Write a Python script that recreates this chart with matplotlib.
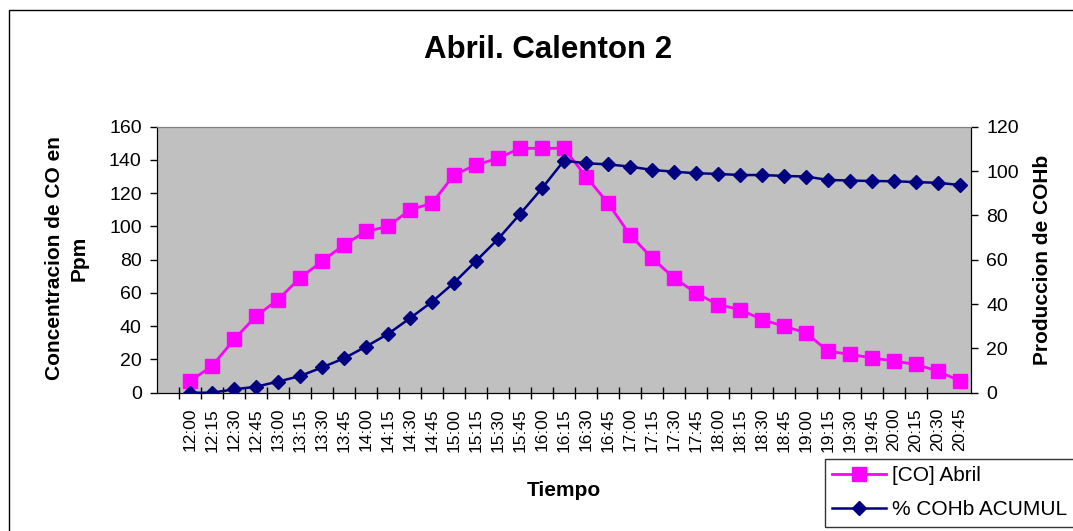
import matplotlib.pyplot as plt
from matplotlib.patches import Rectangle

plt.rcParams['font.family'] = ['Liberation Sans', 'DejaVu Sans']

horas = ["12:00", "12:15", "12:30", "12:45", "13:00", "13:15", "13:30", "13:45",
         "14:00", "14:15", "14:30", "14:45", "15:00", "15:15", "15:30", "15:45",
         "16:00", "16:15", "16:30", "16:45", "17:00", "17:15", "17:30", "17:45",
         "18:00", "18:15", "18:30", "18:45", "19:00", "19:15", "19:30", "19:45",
         "20:00", "20:15", "20:30", "20:45"]
co_abril = [7, 16, 32, 46, 56, 69, 79, 89, 97, 100, 110, 114, 131, 137, 141, 147,
            147, 147, 130, 114, 95, 81, 69, 60, 53, 50, 44, 40, 36, 25, 23, 21,
            19, 17, 13, 7]
cohb = [0, 0, 1.5, 2.7, 5, 7.5, 11.4, 15.5, 20.8, 26.5, 33.6, 41, 49.6, 59.4, 69.3,
        80.6, 92.2, 104.7, 103.5, 103, 102, 100.5, 99.7, 99, 98.7, 98.2, 98.2, 97.8,
        97.5, 96, 95.7, 95.5, 95.4, 95, 94.7, 93.7]

W, H = 1073, 531
fig = plt.figure(figsize=(W / 100, H / 100), dpi=100)
fig.patch.set_facecolor('white')

# outer chart border
fig.patches.append(Rectangle((8.5 / W, -0.1), 1.2, 1 - 10 / H + 0.1, transform=fig.transFigure,
                             fill=False, edgecolor='black', linewidth=1.0))

ax = fig.add_axes([157 / W, 1 - 392.7 / H, (971 - 157) / W, (392.7 - 126.7) / H])
ax.set_facecolor('#C0C0C0')
x = list(range(len(horas)))

l1, = ax.plot(x, co_abril, color='#FF00FF', marker='s', markersize=10.5,
              linewidth=2, label='[CO] Abril', zorder=3)
ax.set_xlim(-1.5, len(horas) - 0.5)
ax.set_ylim(0, 160)
ax.set_yticks(range(0, 161, 20))
ax.set_xticks(x)
ax.set_xticklabels(horas, rotation=90, fontsize=12.5)
ax.set_xticks([i - 0.5 for i in x[:-1]], minor=True)
ax.tick_params(axis='x', which='major', length=0, pad=11)
ax.tick_params(axis='x', which='minor', direction='inout', length=9, width=1)
ax.tick_params(axis='y', direction='out', length=5, width=1, labelsize=14, pad=6)
for s in ['left', 'bottom', 'right']:
    ax.spines[s].set_color('black')
ax.spines['top'].set_color('#808080')

ax2 = ax.twinx()
l2, = ax2.plot(x, cohb, color='#000080', marker='D', markersize=7.5,
               linewidth=1.8, label='% COHb ACUMUL', zorder=4)
ax2.set_ylim(0, 120)
ax2.set_yticks(range(0, 121, 20))
ax2.tick_params(axis='y', direction='out', length=5, width=1, labelsize=14, pad=6)
ax2.spines['right'].set_color('black')
ax2.spines['top'].set_color('#808080')
ax2.set_xlim(-1.5, len(horas) - 0.5)

fig.text(548 / W, 1 - 50 / H, 'Abril. Calenton 2', ha='center', va='center',
         fontsize=22.5, fontweight='bold')
fig.text(67 / W, 1 - 258 / H, 'Concentracion de CO en\nPpm', ha='center', va='center',
         rotation=90, fontsize=15, fontweight='bold', linespacing=1.35)
fig.text(1043 / W, 1 - 260 / H, 'Produccion de COHb', ha='center', va='center',
         rotation=90, fontsize=15, fontweight='bold')
fig.text(564 / W, 1 - 490 / H, 'Tiempo', ha='center', va='center',
         fontsize=15, fontweight='bold')

leg = fig.legend(handles=[l1, l2], loc='upper left',
                 bbox_to_anchor=(825 / W, 1 - 459 / H), bbox_transform=fig.transFigure,
                 fontsize=15, frameon=True, fancybox=False, edgecolor='black',
                 borderaxespad=0, borderpad=0.35, labelspacing=0.72,
                 handlelength=2.6, handletextpad=0.25)
leg.get_frame().set_linewidth(1.0)

fig.savefig('out.png', dpi=100)
